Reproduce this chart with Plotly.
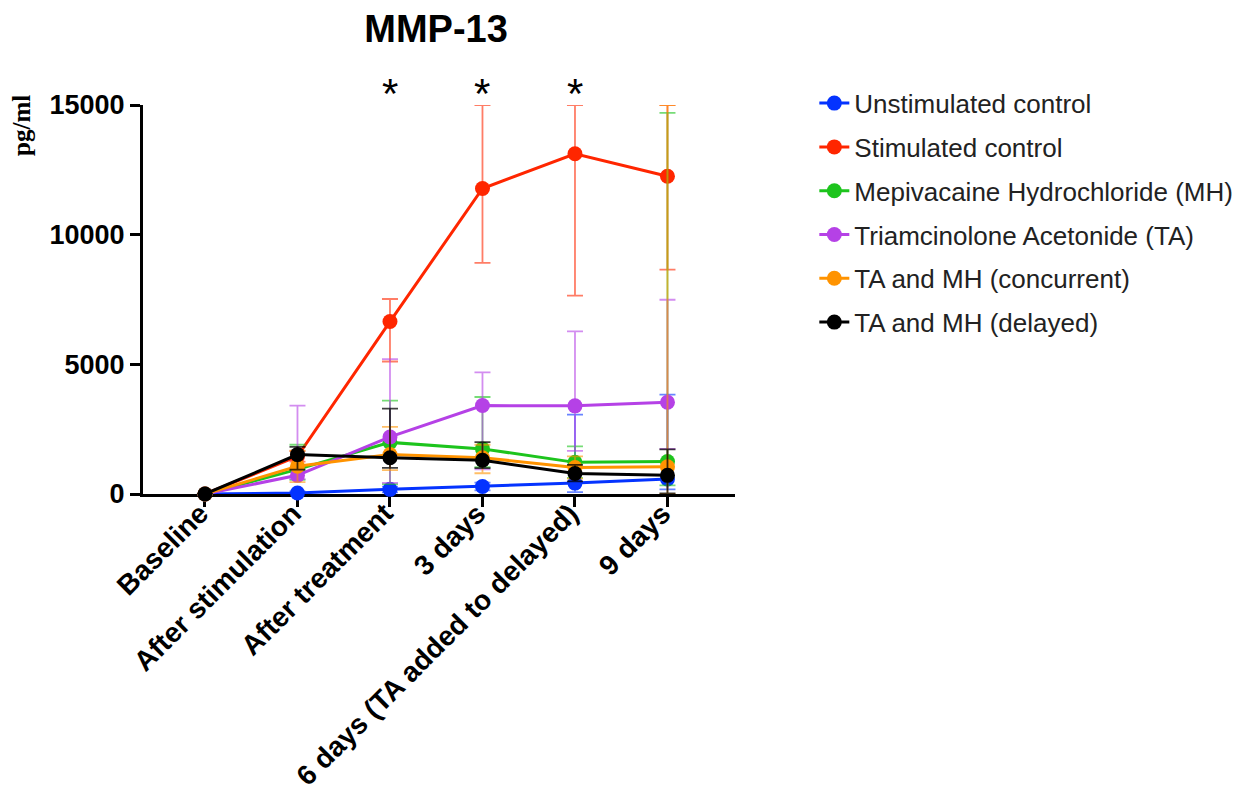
import plotly.graph_objects as go

categories = ["Baseline", "After stimulation", "After treatment", "3 days",
              "6 days (TA added to delayed)", "9 days"]

series_names = ["Unstimulated control", "Stimulated control",
                "Mepivacaine Hydrochloride (MH)", "Triamcinolone Acetonide (TA)",
                "TA and MH (concurrent)", "TA and MH (delayed)"]

unstim_mean = [0, 40, 180, 290, 420, 580]
unstim_plus = [0, 60, 100, 150, 2640, 3250]
unstim_minus = [0, 40, 120, 150, 350, 400]

stim_mean = [0, 1450, 6650, 11780, 13120, 12250]
stim_plus = [0, 200, 870, 4000, 3000, 4000]
stim_minus = [0, 200, 1540, 2870, 5470, 3600]

mh_mean = [0, 950, 1990, 1740, 1220, 1250]
mh_plus = [0, 950, 1610, 2000, 620, 13450]
mh_minus = [0, 400, 1610, 700, 600, 920]

ta_mean = [0, 720, 2200, 3410, 3400, 3540]
ta_plus = [0, 2690, 3000, 1280, 2870, 3950]
ta_minus = [0, 150, 1770, 2460, 1740, 1800]

conc_mean = [0, 1070, 1520, 1400, 1020, 1050]
conc_plus = [0, 600, 1070, 500, 430, 14500]
conc_minus = [0, 615, 600, 600, 430, 1050]

del_mean = [0, 1520, 1400, 1300, 790, 720]
del_plus = [0, 300, 1890, 700, 330, 1000]
del_minus = [0, 580, 390, 300, 300, 700]

y_tick_vals = [0, 5000, 10000, 15000]
y_tick_text = ["0", "5000", "10000", "15000"]

colors = ["#0433FF", "#FF2600", "#1DC41D", "#B541E6", "#FF9300", "#000000"]
err_colors = ["rgba(4,51,255,0.6)", "rgba(255,38,0,0.6)", "rgba(29,196,29,0.6)",
              "rgba(181,65,230,0.6)", "rgba(255,147,0,0.6)", "rgba(0,0,0,0.75)"]

means = [unstim_mean, stim_mean, mh_mean, ta_mean, conc_mean, del_mean]
pluses = [unstim_plus, stim_plus, mh_plus, ta_plus, conc_plus, del_plus]
minuses = [unstim_minus, stim_minus, mh_minus, ta_minus, conc_minus, del_minus]

star_cats = ["After treatment", "3 days", "6 days (TA added to delayed)"]

Y_MAX = 15000

fig = go.Figure()
for i, name in enumerate(series_names):
    m = means[i]
    # clip error bars at the top of the axis like the original
    up = [min(v + p, Y_MAX) - v for v, p in zip(m, pluses[i])]
    dn = [min(v, mi) for v, mi in zip(m, minuses[i])]
    fig.add_trace(go.Scatter(
        x=categories, y=m, name=name, mode="lines+markers",
        legendgroup=name,
        line=dict(color=colors[i], width=3),
        marker=dict(color=colors[i], size=15),
        cliponaxis=False,
        error_y=dict(type="data", symmetric=False, array=up, arrayminus=dn,
                     color=err_colors[i], thickness=1.8, width=8),
    ))

# x tick labels (rotated, bold)
for c in categories:
    fig.add_annotation(x=c, xref="x", y=0, yref="y", text="<b>" + c + "</b>",
                       textangle=-45, xanchor="right", yanchor="top",
                       xshift=12, yshift=-1, showarrow=False,
                       font=dict(size=28, family="Liberation Sans", color="black"))

for c in star_cats:
    fig.add_annotation(x=c, xref="x", y=1.03, yref="paper", text="*",
                       showarrow=False, font=dict(size=42, color="black",
                                                  family="Liberation Sans"),
                       yanchor="middle")

fig.add_annotation(x=-0.2044, xref="paper", y=0.9487, yref="paper",
                   text="<b>pg/ml</b>", textangle=-90, showarrow=False,
                   xanchor="center", yanchor="middle",
                   font=dict(size=25, family="Liberation Serif", color="black"))

fig.update_layout(
    width=1236, height=797,
    paper_bgcolor="white", plot_bgcolor="white",
    margin=dict(l=135, r=509, t=97, b=310.5, autoexpand=False),
    title=dict(text="<b>MMP-13</b>", x=0.3463, xanchor="center", y=0.9745,
               yanchor="middle", font=dict(size=38, family="Liberation Sans",
                                           color="black")),
    font=dict(family="Liberation Sans", color="black"),
    showlegend=True,
    legend=dict(x=1.134, xanchor="left", y=1.065, yanchor="top",
                font=dict(size=26, family="Liberation Sans", color="#222"),
                tracegroupgap=7, bgcolor="rgba(0,0,0,0)"),
)

fig.update_xaxes(
    type="category", range=[-0.67, 5.73],
    showline=True, linecolor="black", linewidth=3,
    ticks="outside", ticklen=10, tickwidth=3, tickcolor="black",
    showticklabels=False,
    showgrid=False, zeroline=False, layer="below traces",
)
fig.update_yaxes(
    range=[0, Y_MAX], tickvals=y_tick_vals, ticktext=y_tick_text,
    showline=True, linecolor="black", linewidth=3,
    ticks="outside", ticklen=10, tickwidth=3, tickcolor="black",
    tickfont=dict(size=27, family="Liberation Sans", color="black", weight="bold"),
    showgrid=False, zeroline=False, layer="below traces",
)

fig.write_html("out.html")
